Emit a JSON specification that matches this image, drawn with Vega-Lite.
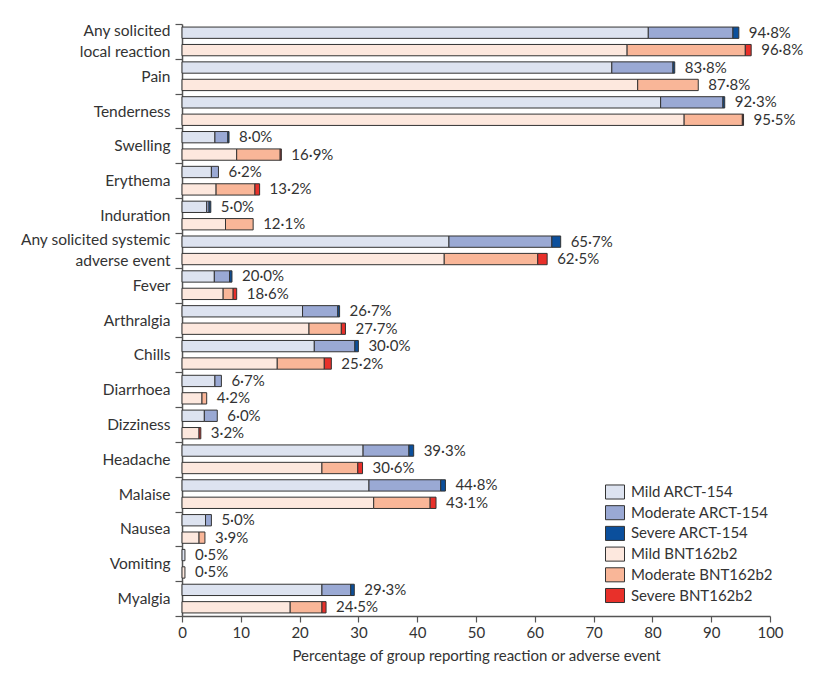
{
  "$schema": "https://vega.github.io/schema/vega-lite/v6.json",
  "autosize": {"type": "none"},
  "padding": {"left": 182, "top": 24, "right": 43, "bottom": 58},
  "width": 588,
  "height": 592,
  "background": "white",
  "config": {
    "font": "Lato",
    "view": {"stroke": null},
    "axis": {"labelColor": "#333", "titleColor": "#333", "domainColor": "#555", "tickColor": "#555", "labelFont": "Lato", "titleFont": "Lato"}
  },
  "data": {
    "values": [
      {"category": "Any solicited local reaction", "vaccine": "ARCT-154", "series": "Mild ARCT-154", "pct": 79.3, "label": "94·8%"},
      {"category": "Any solicited local reaction", "vaccine": "ARCT-154", "series": "Moderate ARCT-154", "pct": 14.4, "label": "94·8%"},
      {"category": "Any solicited local reaction", "vaccine": "ARCT-154", "series": "Severe ARCT-154", "pct": 1.0, "label": "94·8%"},
      {"category": "Any solicited local reaction", "vaccine": "BNT162b2", "series": "Mild BNT162b2", "pct": 75.7, "label": "96·8%"},
      {"category": "Any solicited local reaction", "vaccine": "BNT162b2", "series": "Moderate BNT162b2", "pct": 20.1, "label": "96·8%"},
      {"category": "Any solicited local reaction", "vaccine": "BNT162b2", "series": "Severe BNT162b2", "pct": 1.0, "label": "96·8%"},
      {"category": "Pain", "vaccine": "ARCT-154", "series": "Mild ARCT-154", "pct": 73.1, "label": "83·8%"},
      {"category": "Pain", "vaccine": "ARCT-154", "series": "Moderate ARCT-154", "pct": 10.4, "label": "83·8%"},
      {"category": "Pain", "vaccine": "ARCT-154", "series": "Severe ARCT-154", "pct": 0.3, "label": "83·8%"},
      {"category": "Pain", "vaccine": "BNT162b2", "series": "Mild BNT162b2", "pct": 77.5, "label": "87·8%"},
      {"category": "Pain", "vaccine": "BNT162b2", "series": "Moderate BNT162b2", "pct": 10.3, "label": "87·8%"},
      {"category": "Tenderness", "vaccine": "ARCT-154", "series": "Mild ARCT-154", "pct": 81.4, "label": "92·3%"},
      {"category": "Tenderness", "vaccine": "ARCT-154", "series": "Moderate ARCT-154", "pct": 10.6, "label": "92·3%"},
      {"category": "Tenderness", "vaccine": "ARCT-154", "series": "Severe ARCT-154", "pct": 0.3, "label": "92·3%"},
      {"category": "Tenderness", "vaccine": "BNT162b2", "series": "Mild BNT162b2", "pct": 85.4, "label": "95·5%"},
      {"category": "Tenderness", "vaccine": "BNT162b2", "series": "Moderate BNT162b2", "pct": 9.9, "label": "95·5%"},
      {"category": "Tenderness", "vaccine": "BNT162b2", "series": "Severe BNT162b2", "pct": 0.2, "label": "95·5%"},
      {"category": "Swelling", "vaccine": "ARCT-154", "series": "Mild ARCT-154", "pct": 5.6, "label": "8·0%"},
      {"category": "Swelling", "vaccine": "ARCT-154", "series": "Moderate ARCT-154", "pct": 2.2, "label": "8·0%"},
      {"category": "Swelling", "vaccine": "ARCT-154", "series": "Severe ARCT-154", "pct": 0.2, "label": "8·0%"},
      {"category": "Swelling", "vaccine": "BNT162b2", "series": "Mild BNT162b2", "pct": 9.3, "label": "16·9%"},
      {"category": "Swelling", "vaccine": "BNT162b2", "series": "Moderate BNT162b2", "pct": 7.4, "label": "16·9%"},
      {"category": "Swelling", "vaccine": "BNT162b2", "series": "Severe BNT162b2", "pct": 0.2, "label": "16·9%"},
      {"category": "Erythema", "vaccine": "ARCT-154", "series": "Mild ARCT-154", "pct": 5.0, "label": "6·2%"},
      {"category": "Erythema", "vaccine": "ARCT-154", "series": "Moderate ARCT-154", "pct": 1.2, "label": "6·2%"},
      {"category": "Erythema", "vaccine": "BNT162b2", "series": "Mild BNT162b2", "pct": 5.8, "label": "13·2%"},
      {"category": "Erythema", "vaccine": "BNT162b2", "series": "Moderate BNT162b2", "pct": 6.6, "label": "13·2%"},
      {"category": "Erythema", "vaccine": "BNT162b2", "series": "Severe BNT162b2", "pct": 0.8, "label": "13·2%"},
      {"category": "Induration", "vaccine": "ARCT-154", "series": "Mild ARCT-154", "pct": 4.2, "label": "5·0%"},
      {"category": "Induration", "vaccine": "ARCT-154", "series": "Moderate ARCT-154", "pct": 0.4, "label": "5·0%"},
      {"category": "Induration", "vaccine": "ARCT-154", "series": "Severe ARCT-154", "pct": 0.3, "label": "5·0%"},
      {"category": "Induration", "vaccine": "BNT162b2", "series": "Mild BNT162b2", "pct": 7.4, "label": "12·1%"},
      {"category": "Induration", "vaccine": "BNT162b2", "series": "Moderate BNT162b2", "pct": 4.7, "label": "12·1%"},
      {"category": "Any solicited systemic adverse event", "vaccine": "ARCT-154", "series": "Mild ARCT-154", "pct": 45.4, "label": "65·7%"},
      {"category": "Any solicited systemic adverse event", "vaccine": "ARCT-154", "series": "Moderate ARCT-154", "pct": 17.5, "label": "65·7%"},
      {"category": "Any solicited systemic adverse event", "vaccine": "ARCT-154", "series": "Severe ARCT-154", "pct": 1.5, "label": "65·7%"},
      {"category": "Any solicited systemic adverse event", "vaccine": "BNT162b2", "series": "Mild BNT162b2", "pct": 44.6, "label": "62·5%"},
      {"category": "Any solicited systemic adverse event", "vaccine": "BNT162b2", "series": "Moderate BNT162b2", "pct": 15.9, "label": "62·5%"},
      {"category": "Any solicited systemic adverse event", "vaccine": "BNT162b2", "series": "Severe BNT162b2", "pct": 1.6, "label": "62·5%"},
      {"category": "Fever", "vaccine": "ARCT-154", "series": "Mild ARCT-154", "pct": 5.5, "label": "20·0%"},
      {"category": "Fever", "vaccine": "ARCT-154", "series": "Moderate ARCT-154", "pct": 2.6, "label": "20·0%"},
      {"category": "Fever", "vaccine": "ARCT-154", "series": "Severe ARCT-154", "pct": 0.4, "label": "20·0%"},
      {"category": "Fever", "vaccine": "BNT162b2", "series": "Mild BNT162b2", "pct": 7.0, "label": "18·6%"},
      {"category": "Fever", "vaccine": "BNT162b2", "series": "Moderate BNT162b2", "pct": 1.7, "label": "18·6%"},
      {"category": "Fever", "vaccine": "BNT162b2", "series": "Severe BNT162b2", "pct": 0.6, "label": "18·6%"},
      {"category": "Arthralgia", "vaccine": "ARCT-154", "series": "Mild ARCT-154", "pct": 20.5, "label": "26·7%"},
      {"category": "Arthralgia", "vaccine": "ARCT-154", "series": "Moderate ARCT-154", "pct": 6.0, "label": "26·7%"},
      {"category": "Arthralgia", "vaccine": "ARCT-154", "series": "Severe ARCT-154", "pct": 0.3, "label": "26·7%"},
      {"category": "Arthralgia", "vaccine": "BNT162b2", "series": "Mild BNT162b2", "pct": 21.6, "label": "27·7%"},
      {"category": "Arthralgia", "vaccine": "BNT162b2", "series": "Moderate BNT162b2", "pct": 5.5, "label": "27·7%"},
      {"category": "Arthralgia", "vaccine": "BNT162b2", "series": "Severe BNT162b2", "pct": 0.7, "label": "27·7%"},
      {"category": "Chills", "vaccine": "ARCT-154", "series": "Mild ARCT-154", "pct": 22.5, "label": "30·0%"},
      {"category": "Chills", "vaccine": "ARCT-154", "series": "Moderate ARCT-154", "pct": 6.9, "label": "30·0%"},
      {"category": "Chills", "vaccine": "ARCT-154", "series": "Severe ARCT-154", "pct": 0.6, "label": "30·0%"},
      {"category": "Chills", "vaccine": "BNT162b2", "series": "Mild BNT162b2", "pct": 16.2, "label": "25·2%"},
      {"category": "Chills", "vaccine": "BNT162b2", "series": "Moderate BNT162b2", "pct": 8.0, "label": "25·2%"},
      {"category": "Chills", "vaccine": "BNT162b2", "series": "Severe BNT162b2", "pct": 1.2, "label": "25·2%"},
      {"category": "Diarrhoea", "vaccine": "ARCT-154", "series": "Mild ARCT-154", "pct": 5.6, "label": "6·7%"},
      {"category": "Diarrhoea", "vaccine": "ARCT-154", "series": "Moderate ARCT-154", "pct": 1.1, "label": "6·7%"},
      {"category": "Diarrhoea", "vaccine": "BNT162b2", "series": "Mild BNT162b2", "pct": 3.4, "label": "4·2%"},
      {"category": "Diarrhoea", "vaccine": "BNT162b2", "series": "Moderate BNT162b2", "pct": 0.8, "label": "4·2%"},
      {"category": "Dizziness", "vaccine": "ARCT-154", "series": "Mild ARCT-154", "pct": 3.8, "label": "6·0%"},
      {"category": "Dizziness", "vaccine": "ARCT-154", "series": "Moderate ARCT-154", "pct": 2.2, "label": "6·0%"},
      {"category": "Dizziness", "vaccine": "BNT162b2", "series": "Mild BNT162b2", "pct": 2.9, "label": "3·2%"},
      {"category": "Dizziness", "vaccine": "BNT162b2", "series": "Severe BNT162b2", "pct": 0.3, "label": "3·2%"},
      {"category": "Headache", "vaccine": "ARCT-154", "series": "Mild ARCT-154", "pct": 30.8, "label": "39·3%"},
      {"category": "Headache", "vaccine": "ARCT-154", "series": "Moderate ARCT-154", "pct": 7.8, "label": "39·3%"},
      {"category": "Headache", "vaccine": "ARCT-154", "series": "Severe ARCT-154", "pct": 0.8, "label": "39·3%"},
      {"category": "Headache", "vaccine": "BNT162b2", "series": "Mild BNT162b2", "pct": 23.8, "label": "30·6%"},
      {"category": "Headache", "vaccine": "BNT162b2", "series": "Moderate BNT162b2", "pct": 6.1, "label": "30·6%"},
      {"category": "Headache", "vaccine": "BNT162b2", "series": "Severe BNT162b2", "pct": 0.8, "label": "30·6%"},
      {"category": "Malaise", "vaccine": "ARCT-154", "series": "Mild ARCT-154", "pct": 31.8, "label": "44·8%"},
      {"category": "Malaise", "vaccine": "ARCT-154", "series": "Moderate ARCT-154", "pct": 12.2, "label": "44·8%"},
      {"category": "Malaise", "vaccine": "ARCT-154", "series": "Severe ARCT-154", "pct": 0.8, "label": "44·8%"},
      {"category": "Malaise", "vaccine": "BNT162b2", "series": "Mild BNT162b2", "pct": 32.6, "label": "43·1%"},
      {"category": "Malaise", "vaccine": "BNT162b2", "series": "Moderate BNT162b2", "pct": 9.6, "label": "43·1%"},
      {"category": "Malaise", "vaccine": "BNT162b2", "series": "Severe BNT162b2", "pct": 1.0, "label": "43·1%"},
      {"category": "Nausea", "vaccine": "ARCT-154", "series": "Mild ARCT-154", "pct": 4.0, "label": "5·0%"},
      {"category": "Nausea", "vaccine": "ARCT-154", "series": "Moderate ARCT-154", "pct": 1.0, "label": "5·0%"},
      {"category": "Nausea", "vaccine": "BNT162b2", "series": "Mild BNT162b2", "pct": 2.9, "label": "3·9%"},
      {"category": "Nausea", "vaccine": "BNT162b2", "series": "Moderate BNT162b2", "pct": 1.0, "label": "3·9%"},
      {"category": "Vomiting", "vaccine": "ARCT-154", "series": "Mild ARCT-154", "pct": 0.5, "label": "0·5%"},
      {"category": "Vomiting", "vaccine": "BNT162b2", "series": "Mild BNT162b2", "pct": 0.5, "label": "0·5%"},
      {"category": "Myalgia", "vaccine": "ARCT-154", "series": "Mild ARCT-154", "pct": 23.8, "label": "29·3%"},
      {"category": "Myalgia", "vaccine": "ARCT-154", "series": "Moderate ARCT-154", "pct": 4.9, "label": "29·3%"},
      {"category": "Myalgia", "vaccine": "ARCT-154", "series": "Severe ARCT-154", "pct": 0.6, "label": "29·3%"},
      {"category": "Myalgia", "vaccine": "BNT162b2", "series": "Mild BNT162b2", "pct": 18.4, "label": "24·5%"},
      {"category": "Myalgia", "vaccine": "BNT162b2", "series": "Moderate BNT162b2", "pct": 5.4, "label": "24·5%"},
      {"category": "Myalgia", "vaccine": "BNT162b2", "series": "Severe BNT162b2", "pct": 0.7, "label": "24·5%"}
    ]
  },
  "encoding": {
    "y": {
      "field": "category",
      "type": "nominal",
      "sort": ["Any solicited local reaction", "Pain", "Tenderness", "Swelling", "Erythema", "Induration", "Any solicited systemic adverse event", "Fever", "Arthralgia", "Chills", "Diarrhoea", "Dizziness", "Headache", "Malaise", "Nausea", "Vomiting", "Myalgia"],
      "scale": {"paddingInner": 0, "paddingOuter": 0},
      "axis": {
        "title": null,
        "tickBand": "extent",
        "tickSize": 7,
        "tickWidth": 1.2,
        "domainWidth": 1.5,
        "labelPadding": 5,
        "labelFontSize": 15.5,
        "labelLineHeight": 21,
        "labelLimit": 200,
        "labelBaseline": {"condition": {"test": "datum.value === 'Any solicited local reaction' || datum.value === 'Any solicited systemic adverse event'", "value": "line-bottom"}, "value": "middle"},
        "labelExpr": "datum.label == 'Any solicited local reaction' ? ['Any solicited', 'local reaction'] : datum.label == 'Any solicited systemic adverse event' ? ['Any solicited systemic', 'adverse event'] : datum.label"
      }
    },
    "yOffset": {
      "field": "vaccine",
      "type": "nominal",
      "sort": ["ARCT-154", "BNT162b2"],
      "scale": {"paddingInner": 0.35, "paddingOuter": 0.175}
    }
  },
  "layer": [
    {
      "mark": {"type": "bar", "stroke": "#333", "strokeWidth": 1},
      "encoding": {
        "x": {
          "field": "pct",
          "type": "quantitative",
          "stack": "zero",
          "scale": {"domain": [0, 100], "nice": false},
          "axis": {
            "title": "Percentage of group reporting reaction or adverse event",
            "titleFontSize": 15,
            "titleFontWeight": "normal",
            "titlePadding": 8,
            "values": [0, 10, 20, 30, 40, 50, 60, 70, 80, 90, 100],
            "tickSize": 6,
            "tickWidth": 1.2,
            "domainWidth": 1.5,
            "labelFontSize": 15,
            "labelPadding": 3,
            "labelFlush": false,
            "grid": false
          }
        },
        "color": {
          "field": "series",
          "type": "nominal",
          "scale": {
            "domain": ["Mild ARCT-154", "Moderate ARCT-154", "Severe ARCT-154", "Mild BNT162b2", "Moderate BNT162b2", "Severe BNT162b2"],
            "range": ["#dde3f0", "#9aa9d4", "#0b4f9c", "#fde8de", "#f9b698", "#e8302a"]
          },
          "legend": {
            "title": null,
            "orient": "none",
            "legendX": 423,
            "legendY": 458,
            "padding": 0,
            "symbolType": "M-1,-0.74L1,-0.74L1,0.74L-1,0.74Z",
            "symbolSize": 361,
            "symbolStrokeColor": "#333",
            "symbolStrokeWidth": 1,
            "symbolOpacity": 1,
            "labelFontSize": 15,
            "labelColor": "#333",
            "labelOffset": 6,
            "rowPadding": 0.7,
            "labelLimit": 250
          }
        }
      }
    },
    {
      "mark": {"type": "text", "align": "left", "baseline": "middle", "dx": 10, "fontSize": 15, "color": "#333"},
      "encoding": {
        "x": {"aggregate": "sum", "field": "pct", "type": "quantitative"},
        "text": {"field": "label", "type": "nominal"}
      }
    }
  ]
}
